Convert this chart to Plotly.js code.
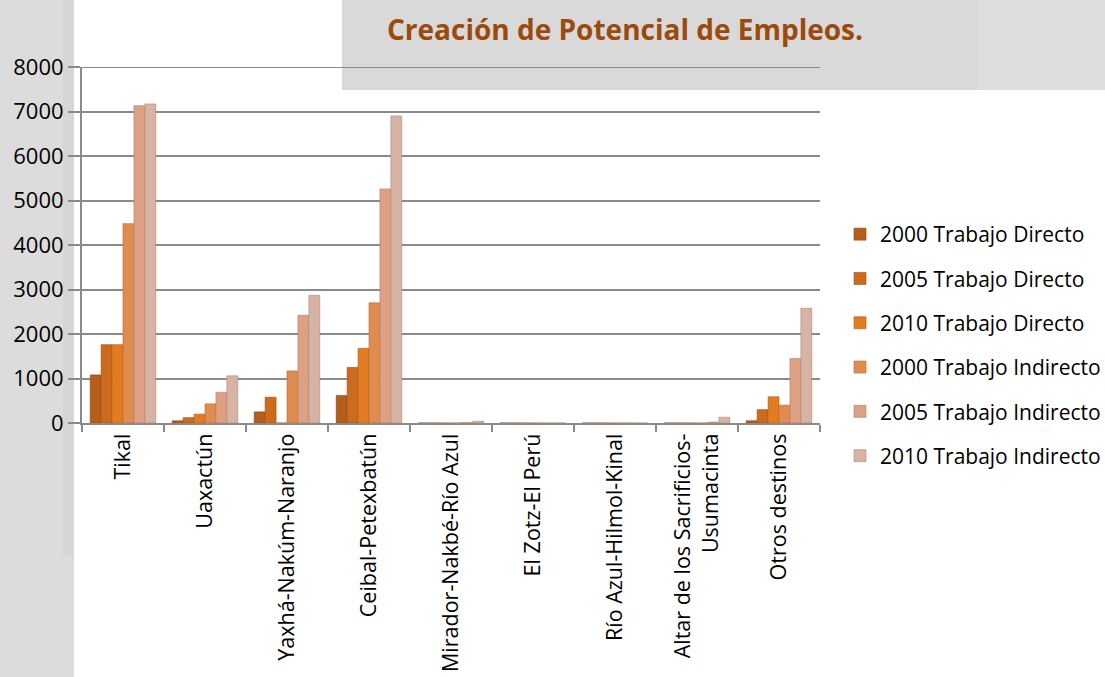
<!DOCTYPE html>
<html>
<head>
<meta charset="utf-8">
<script src="https://cdn.plot.ly/plotly-3.0.1.min.js"></script>
<style>
html,body{margin:0;padding:0;background:#fff;}
#chart{width:1105px;height:677px;}
</style>
</head>
<body>
<div id="chart"></div>
<script>
const categories = [
  "Tikal",
  "Uaxactún",
  "Yaxhá-Nakúm-Naranjo",
  "Ceibal-Petexbatún",
  "Mirador-Nakbé-Río Azul",
  "El Zotz-El Perú",
  "Río Azul-Hilmol-Kinal",
  "Altar de los Sacrificios-<br>Usumacinta",
  "Otros destinos"
];
const seriesNames = [
  "2000 Trabajo Directo",
  "2005 Trabajo Directo",
  "2010 Trabajo Directo",
  "2000 Trabajo Indirecto",
  "2005 Trabajo Indirecto",
  "2010 Trabajo Indirecto"
];
const directo2000   = [1080,   50,  250,  620, 0, 0, 0,   0,   50];
const directo2005   = [1760,  120,  580, 1250, 0, 0, 0,   0,  300];
const directo2010   = [1760,  200,    0, 1680, 0, 0, 0,   0,  590];
const indirecto2000 = [4480,  430, 1170, 2700, 0, 0, 0,   0,  400];
const indirecto2005 = [7130,  690, 2420, 5260, 10, 0, 0,  20, 1450];
const indirecto2010 = [7170, 1060, 2870, 6900, 40, 0, 0, 130, 2580];
const seriesValues = [directo2000, directo2005, directo2010, indirecto2000, indirecto2005, indirecto2010];
const seriesColors = ["#b45e1c", "#cc6a1d", "#e27b22", "#e08c4e", "#dea083", "#d7b3a3"];
const lineColors   = ["#8e4512", "#9f5013", "#b55f16", "#b56a36", "#b47c63", "#a88a7d"];
const yTicks = [0,1000,2000,3000,4000,5000,6000,7000,8000];

// plot area in pixels
const L = 82, R = 820, T = 67, B = 423, W = 1105, H = 677;
const px = x => (x - L) / (R - L);
const py = y => (B - y) / (B - T);

const traces = seriesNames.map((name, i) => ({
  type: "bar",
  name: name,
  x: categories,
  y: seriesValues[i],
  legendgroup: "g" + i,
  marker: {color: seriesColors[i], line: {color: lineColors[i], width: 0.6}},
  hoverinfo: "x+y+name"
}));

const gray = "#8a8a8a";
const layout = {
  width: W, height: H,
  margin: {l: L, r: W - R, t: T, b: H - B, pad: 0},
  paper_bgcolor: "#ffffff",
  plot_bgcolor: "rgba(0,0,0,0)",
  barmode: "group",
  bargap: 0.2,
  bargroupgap: 0,
  showlegend: true,
  title: {
    text: "<b>Creación de Potencial de Empleos.</b>",
    font: {family: "Open Sans, sans-serif", size: 28, color: "#9b4a0b"},
    xref: "container", yref: "container",
    x: 625 / W, xanchor: "center",
    y: 1 - 30 / H, yanchor: "middle"
  },
  font: {family: "Open Sans, sans-serif", color: "#000"},
  xaxis: {
    type: "category",
    tickangle: -90,
    ticks: "outside",
    tickson: "boundaries",
    ticklen: 7,
    tickwidth: 1.5,
    tickcolor: gray,
    showline: true,
    linecolor: gray,
    linewidth: 2,
    showgrid: false,
    tickfont: {family: "Open Sans, sans-serif", size: 21.5, color: "#000"},
    automargin: false
  },
  yaxis: {
    range: [0, 8000],
    tickvals: yTicks,
    ticktext: yTicks.map(String),
    ticks: "outside",
    ticklen: 12,
    tickwidth: 2,
    tickcolor: gray,
    showgrid: true,
    gridcolor: gray,
    gridwidth: 2,
    showline: true,
    linecolor: gray,
    linewidth: 2,
    zeroline: false,
    tickfont: {family: "Open Sans, sans-serif", size: 22, color: "#000"},
    automargin: false
  },
  legend: {
    xref: "container", yref: "container",
    x: 840 / W, xanchor: "left",
    y: 1 - 214 / H, yanchor: "top",
    font: {family: "Open Sans, sans-serif", size: 21, color: "#000"},
    tracegroupgap: 14,
    bgcolor: "rgba(0,0,0,0)",
    itemwidth: 30
  },
  shapes: [
    {type: "rect", xref: "paper", yref: "paper", layer: "below",
     x0: px(0), x1: px(74), y0: py(H), y1: py(0),
     fillcolor: "#dcdcdc", line: {width: 0}},
    {type: "rect", xref: "paper", yref: "paper", layer: "below",
     x0: px(63), x1: px(74), y0: py(555), y1: py(0),
     fillcolor: "#d6d6d6", line: {width: 0}},
    {type: "rect", xref: "paper", yref: "paper", layer: "below",
     x0: px(342), x1: px(978), y0: py(90), y1: py(0),
     fillcolor: "#d9d9d9", line: {width: 0}},
    {type: "rect", xref: "paper", yref: "paper", layer: "below",
     x0: px(978), x1: px(W), y0: py(90), y1: py(0),
     fillcolor: "#dedede", line: {width: 0}},
    {type: "line", xref: "paper", yref: "y", layer: "below",
     x0: 0, x1: 1, y0: 8000, y1: 8000,
     line: {color: gray, width: 2}}
  ]
};

Plotly.newPlot("chart", traces, layout, {displayModeBar: false, responsive: false});
</script>
</body>
</html>
